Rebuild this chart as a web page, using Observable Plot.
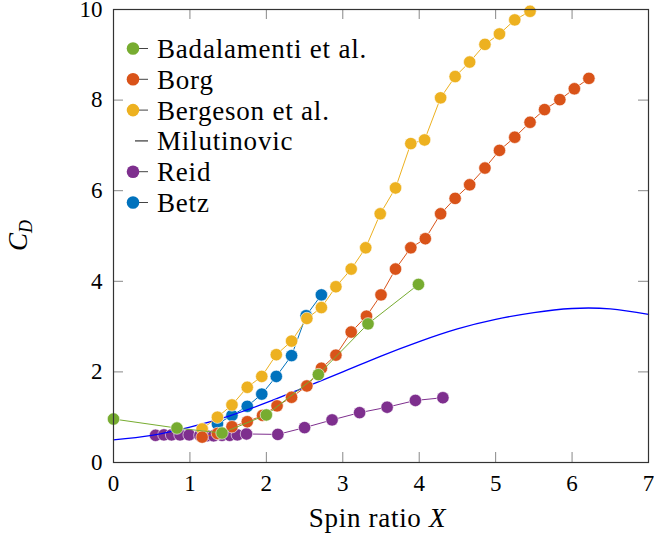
<!DOCTYPE html>
<html>
<head>
<meta charset="utf-8">
<script src="https://cdn.jsdelivr.net/npm/d3@7"></script>
<script src="https://cdn.jsdelivr.net/npm/@observablehq/plot@0.6"></script>
<style>
  html, body { margin: 0; padding: 0; background: #fff; }
  #chart { width: 654px; height: 541px; }
</style>
</head>
<body>
<div id="chart"></div>
<script>
// ---- data ----
const seriesNames = ["Badalamenti et al.", "Borg", "Bergeson et al.", "Milutinovic", "Reid", "Betz"];
const seriesColors = ["#77ac30", "#d95319", "#edb120", "#0000ff", "#7e2f8e", "#0072bd"];

const badalamentiX = [0, 0.83, 1.42, 2.0, 2.68, 3.33, 3.99];
const badalamentiY = [0.96, 0.76, 0.65, 1.05, 1.94, 3.06, 3.93];

const borgX = [1.16, 1.36, 1.55, 1.75, 1.95, 2.14, 2.33, 2.53, 2.72, 2.91, 3.11, 3.31, 3.50, 3.69, 3.89, 4.08, 4.28, 4.47, 4.66, 4.86, 5.05, 5.25, 5.45, 5.64, 5.84, 6.03, 6.22];
const borgY = [0.56, 0.64, 0.79, 0.90, 1.04, 1.25, 1.44, 1.69, 2.08, 2.37, 2.88, 3.23, 3.70, 4.27, 4.74, 4.94, 5.49, 5.83, 6.13, 6.50, 6.89, 7.18, 7.51, 7.79, 8.01, 8.25, 8.48];

const bergesonX = [1.16, 1.36, 1.55, 1.75, 1.94, 2.13, 2.33, 2.53, 2.72, 2.91, 3.11, 3.30, 3.49, 3.69, 3.89, 4.07, 4.28, 4.47, 4.66, 4.86, 5.05, 5.25, 5.45];
const bergesonY = [0.74, 1.00, 1.27, 1.66, 1.90, 2.38, 2.68, 3.18, 3.42, 3.88, 4.27, 4.74, 5.49, 6.06, 7.04, 7.12, 8.05, 8.52, 8.84, 9.23, 9.46, 9.77, 9.96];

const milutinovicX = [0, 0.5, 1, 1.5, 2, 2.5, 3, 3.5, 4, 4.5, 5, 5.5, 6, 6.5, 7];
const milutinovicY = [0.50, 0.60, 0.78, 1.02, 1.32, 1.66, 2.00, 2.35, 2.67, 2.95, 3.16, 3.31, 3.40, 3.39, 3.27];

const reidX = [0.55, 0.66, 0.76, 0.87, 0.99, 1.13, 1.22, 1.31, 1.42, 1.52, 1.62, 1.74, 2.15, 2.50, 2.86, 3.22, 3.58, 3.95, 4.31];
const reidY = [0.60, 0.61, 0.61, 0.61, 0.61, 0.60, 0.59, 0.59, 0.60, 0.60, 0.61, 0.63, 0.62, 0.77, 0.94, 1.10, 1.22, 1.37, 1.43];

const betzX = [1.36, 1.55, 1.75, 1.94, 2.13, 2.33, 2.52, 2.72];
const betzY = [0.85, 1.04, 1.24, 1.51, 1.90, 2.36, 3.24, 3.70];

const xTicks = [0, 1, 2, 3, 4, 5, 6, 7];
const yTicks = [0, 2, 4, 6, 8, 10];

// ---- build tables ----
const toRows = (xs, ys) => xs.map((x, i) => ({x, y: ys[i]}));
const bad = toRows(badalamentiX, badalamentiY);
const borg = toRows(borgX, borgY);
const berg = toRows(bergesonX, bergesonY);
const milu = toRows(milutinovicX, milutinovicY);
const reid = toRows(reidX, reidY);
const betz = toRows(betzX, betzY);

const W = 654, H = 541;
const mL = 113, mR = 6, mT = 9, mB = 79;
const fw = W - mL - mR, fh = H - mT - mB;
const tl = 10; // tick length
const font = "'Liberation Serif', 'DejaVu Serif', serif";

const dotSeries = (rows, color) => [
  Plot.line(rows, {x: "x", y: "y", stroke: color, strokeWidth: 1}),
  Plot.dot(rows, {x: "x", y: "y", r: 6.2, fill: color, stroke: "white", strokeWidth: 0.6})
];

const chart = Plot.plot({
  width: W, height: H,
  marginLeft: mL, marginRight: mR, marginTop: mT, marginBottom: mB,
  style: {fontFamily: font, fontSize: "23px", color: "#000", background: "#fff"},
  x: {domain: [0, 7]},
  y: {domain: [0, 10]},
  marks: [
    // inward ticks
    Plot.tickX(xTicks, {x: d => d, insetTop: fh - tl, stroke: "#888", strokeWidth: 1}),
    Plot.tickX(xTicks, {x: d => d, insetBottom: fh - tl, stroke: "#888", strokeWidth: 1}),
    Plot.tickY(yTicks, {y: d => d, insetRight: fw - tl, stroke: "#888", strokeWidth: 1}),
    Plot.tickY(yTicks, {y: d => d, insetLeft: fw - tl, stroke: "#888", strokeWidth: 1}),
    Plot.axisX(xTicks, {tickSize: 0, tickPadding: 12, label: null, fontSize: 23, fill: "#000"}),
    Plot.axisY(yTicks, {tickSize: 0, tickPadding: 11, label: null, fontSize: 23, fill: "#000"}),
    ...dotSeries(betz, seriesColors[5]),
    ...dotSeries(reid, seriesColors[4]),
    Plot.line(milu, {x: "x", y: "y", stroke: seriesColors[3], strokeWidth: 1.3, curve: "natural"}),
    ...dotSeries(berg, seriesColors[2]),
    ...dotSeries(borg, seriesColors[1]),
    ...dotSeries(bad, seriesColors[0]),
    Plot.frame({stroke: "#333", strokeWidth: 1.2})
  ]
});

document.getElementById("chart").appendChild(chart);

// ---- axis titles and legend ----
const svg = d3.select(chart);

const xl = svg.append("text")
  .attr("x", mL + fw / 2 - 3).attr("y", 527)
  .attr("text-anchor", "middle")
  .attr("letter-spacing", "0.7px")
  .attr("font-family", font).attr("font-size", 27).attr("fill", "#000");
xl.append("tspan").text("Spin ratio ");
xl.append("tspan").attr("font-style", "italic").text("X");

const yl = svg.append("text")
  .attr("transform", `translate(27, ${mT + fh / 2}) rotate(-90)`)
  .attr("text-anchor", "middle")
  .attr("font-family", font).attr("font-size", 27).attr("fill", "#000");
yl.append("tspan").attr("font-style", "italic").text("C");
yl.append("tspan").attr("font-style", "italic").attr("font-size", 18).attr("dy", 5).text("D");

const lg = svg.append("g").attr("font-family", font).attr("font-size", 27).attr("text-anchor", "start");
seriesNames.forEach((name, i) => {
  const cy = 48.5 + i * 30.8;
  const g = lg.append("g").attr("transform", `translate(0, ${cy})`);
  if (name === "Milutinovic") {
    g.append("line").attr("x1", 135).attr("x2", 148).attr("y1", 0).attr("y2", 0)
      .attr("stroke", "#444").attr("stroke-width", 1.3);
  } else {
    g.append("line").attr("x1", 133).attr("x2", 148).attr("y1", 0).attr("y2", 0)
      .attr("stroke", "#444").attr("stroke-width", 1);
    g.append("circle").attr("cx", 133).attr("cy", 0).attr("r", 6.3).attr("fill", seriesColors[i]);
  }
  g.append("text").attr("x", 157).attr("y", 0).attr("dy", "0.35em")
    .attr("letter-spacing", "0.8px").attr("fill", "#000").text(name);
});
</script>
</body>
</html>
